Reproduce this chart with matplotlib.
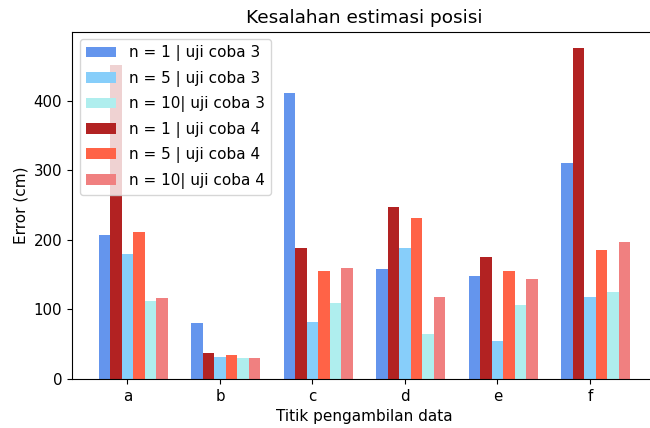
import numpy as np
import matplotlib
matplotlib.use("Agg")
import matplotlib.pyplot as plt

categories = ['a', 'b', 'c', 'd', 'e', 'f']
n1_uji3 = [207, 80, 412, 158, 148, 310]
n5_uji3 = [180, 32, 82, 189, 55, 118]
n10_uji3 = [112, 30, 110, 65, 107, 125]
n1_uji4 = [452, 37, 189, 248, 175, 476]
n5_uji4 = [212, 34, 155, 232, 155, 185]
n10_uji4 = [117, 30, 160, 118, 144, 197]

labels = ['n = 1 | uji coba 3', 'n = 5 | uji coba 3', 'n = 10| uji coba 3',
          'n = 1 | uji coba 4', 'n = 5 | uji coba 4', 'n = 10| uji coba 4']

fig = plt.figure(figsize=(6.5, 4.28), dpi=100)
ax = fig.add_axes([72/650, 49/428, 585/650, 347.5/428])

x = np.arange(len(categories))
w = 0.125
series = [
    (n1_uji3, -2, 'cornflowerblue', labels[0]),
    (n5_uji3, 0, 'lightskyblue', labels[1]),
    (n10_uji3, 2, 'paleturquoise', labels[2]),
    (n1_uji4, -1, 'firebrick', labels[3]),
    (n5_uji4, 1, 'tomato', labels[4]),
    (n10_uji4, 3, 'lightcoral', labels[5]),
]
for vals, off, col, lab in series:
    ax.bar(x + off * w, vals, w, color=col, label=lab)

ax.set_xlim(-0.6, 5.725)
ax.set_xticks(x)
ax.set_xticklabels(categories)
ax.set_yticks([0, 100, 200, 300, 400])
ax.tick_params(labelsize=10.8)
ax.spines['right'].set_visible(False)
ax.set_xlabel('Titik pengambilan data', fontsize=11)
ax.set_ylabel('Error (cm)', fontsize=11)
ax.set_title('Kesalahan estimasi posisi', fontsize=13.3)
ax.legend(loc='upper left', fontsize=11, labelspacing=0.62)

fig.savefig('out.png', dpi=100)
